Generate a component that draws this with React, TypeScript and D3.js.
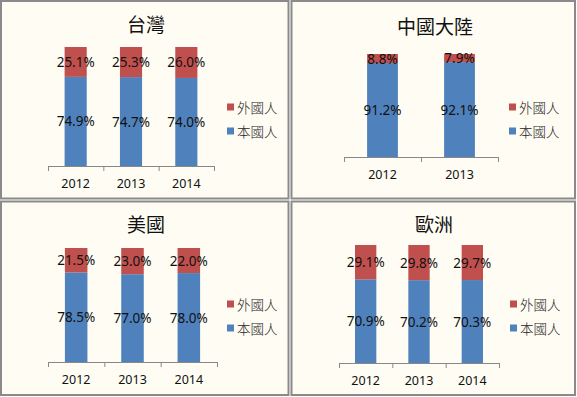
import React from "react";
import * as d3 from "d3";

// ---- data ----
const seriesNames = ["外國人", "本國人"];
const titles = ["台灣", "中國大陸", "美國", "歐洲"];

const taiwanYears = ["2012", "2013", "2014"];
const taiwanLocal = [74.9, 74.7, 74.0];
const taiwanForeign = [25.1, 25.3, 26.0];

const chinaYears = ["2012", "2013"];
const chinaLocal = [91.2, 92.1];
const chinaForeign = [8.8, 7.9];

const usYears = ["2012", "2013", "2014"];
const usLocal = [78.5, 77.0, 78.0];
const usForeign = [21.5, 23.0, 22.0];

const europeYears = ["2012", "2013", "2014"];
const europeLocal = [70.9, 70.2, 70.3];
const europeForeign = [29.1, 29.8, 29.7];

// ---- layout (positions only) ----
const W = 577;
const H = 397;
const layouts = [
  { px: 0, py: 0, pw: 289.5, ph: 199.5, ax0: 48, ax1: 214, yTop: 47, yBot: 166, titleX: 146, titleY: 23, legX: 227, legY: 107 },
  { px: 290.5, py: 0, pw: 285.5, ph: 199.5, ax0: 344, ax1: 498, yTop: 54, yBot: 157, titleX: 435, titleY: 25, legX: 509, legY: 107 },
  { px: 0, py: 200.5, pw: 289.5, ph: 195.5, ax0: 48, ax1: 217, yTop: 248, yBot: 362, titleX: 146, titleY: 223, legX: 227, legY: 304 },
  { px: 290.5, py: 200.5, pw: 285.5, ph: 195.5, ax0: 339, ax1: 499, yTop: 245, yBot: 363, titleX: 434, titleY: 223, legX: 510, legY: 304 },
];

const panelData = [
  { years: taiwanYears, local: taiwanLocal, foreign: taiwanForeign },
  { years: chinaYears, local: chinaLocal, foreign: chinaForeign },
  { years: usYears, local: usLocal, foreign: usForeign },
  { years: europeYears, local: europeLocal, foreign: europeForeign },
];

const RED = "#C0504D";
const BLUE = "#4F81BD";
const BG = "#FFFDF3";
const LATIN = "'Noto Sans', 'Open Sans', sans-serif";
const CJK = "'Noto Sans CJK TC', 'Noto Sans CJK SC', sans-serif";

function Panel({ idx }: { idx: number }) {
  const L = layouts[idx];
  const D = panelData[idx];
  const x = d3
    .scaleBand<string>()
    .domain(D.years)
    .range([L.ax0, L.ax1])
    .paddingInner(0.6)
    .paddingOuter(0.3);
  const y = d3.scaleLinear().domain([0, 100]).range([L.yBot, L.yTop]);
  const step = x.step();
  const ticks = d3.range(D.years.length + 1).map((i) => L.ax0 + i * step);
  const bw = x.bandwidth();

  return (
    <g>
      <rect
        x={L.px + 1}
        y={L.py + 1}
        width={L.pw - 2}
        height={L.ph - 2}
        fill={BG}
        stroke="#8a8a8a"
        strokeWidth={2}
      />
      <text
        x={L.titleX}
        y={L.titleY}
        textAnchor="middle"
        dominantBaseline="central"
        fontFamily={CJK}
        fontSize={19}
        fontWeight={400}
        fill="#111"
      >
        {titles[idx]}
      </text>
      {D.years.map((yr, i) => {
        const bx = x(yr) as number;
        const loc = D.local[i];
        const frn = D.foreign[i];
        const cx = bx + bw / 2;
        return (
          <g key={yr}>
            <rect x={bx} y={y(loc)} width={bw} height={y(0) - y(loc)} fill={BLUE} />
            <rect x={bx} y={y(loc + frn)} width={bw} height={y(loc) - y(loc + frn)} fill={RED} />
            <text
              x={cx}
              y={(y(0) + y(loc)) / 2}
              textAnchor="middle"
              dominantBaseline="central"
              fontFamily={LATIN}
              fontSize={13.5}
              fill="#111"
            >
              {loc.toFixed(1) + "%"}
            </text>
            <text
              x={cx}
              y={(y(loc) + y(loc + frn)) / 2}
              textAnchor="middle"
              dominantBaseline="central"
              fontFamily={LATIN}
              fontSize={13.5}
              fill="#111"
            >
              {frn.toFixed(1) + "%"}
            </text>
            <text
              x={cx}
              y={L.yBot + 17.5}
              textAnchor="middle"
              dominantBaseline="central"
              fontFamily={LATIN}
              fontSize={12.5}
              fill="#111"
            >
              {yr}
            </text>
          </g>
        );
      })}
      <line x1={L.ax0} x2={L.ax1} y1={L.yBot + 0.5} y2={L.yBot + 0.5} stroke="#888" strokeWidth={1} />
      {ticks.map((t, i) => (
        <line key={i} x1={t + 0.5} x2={t + 0.5} y1={L.yBot} y2={L.yBot + 5} stroke="#888" strokeWidth={1} />
      ))}
      {seriesNames.map((s, i) => (
        <g key={s}>
          <rect
            x={L.legX}
            y={L.legY + i * 24 - 3.5}
            width={7}
            height={7}
            fill={i === 0 ? RED : BLUE}
          />
          <text
            x={L.legX + 10}
            y={L.legY + i * 24}
            dominantBaseline="central"
            fontFamily={CJK}
            fontSize={13.5}
            fontWeight={300}
            fill="#222"
          >
            {s}
          </text>
        </g>
      ))}
    </g>
  );
}

export default function App() {
  return (
    <div style={{ position: "absolute", left: 0, top: 0 }}>
      <svg width={W} height={H} style={{ display: "block" }}>
        <rect x={0} y={0} width={W} height={H} fill="#ffffff" />
        {layouts.map((_, i) => (
          <Panel key={i} idx={i} />
        ))}
      </svg>
    </div>
  );
}
